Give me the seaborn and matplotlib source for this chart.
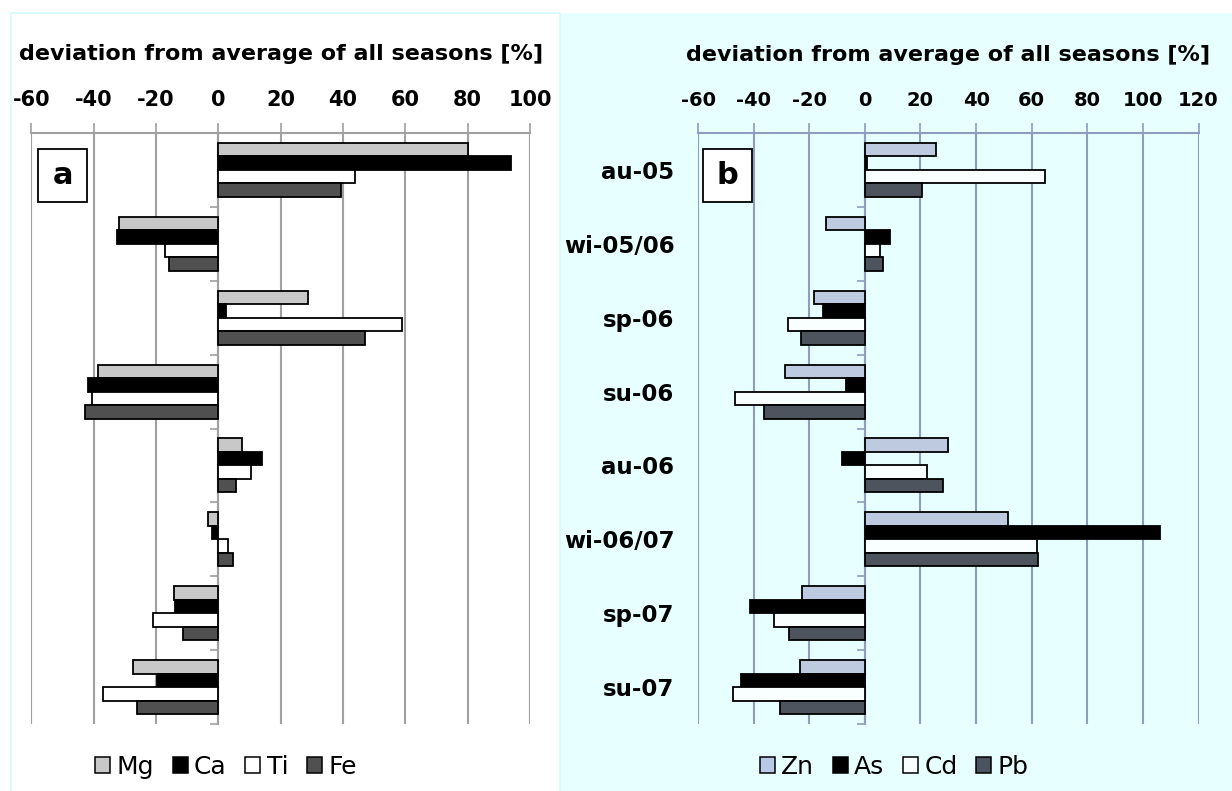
import numpy as np
import pandas as pd
import matplotlib
matplotlib.use("Agg")
import matplotlib.pyplot as plt
import seaborn as sns
from matplotlib.patches import Patch, Rectangle

# ---------------- data ----------------
seasons = ["au-05", "wi-05/06", "sp-06", "su-06", "au-06", "wi-06/07", "sp-07", "su-07"]

elements_a = ["Mg", "Ca", "Ti", "Fe"]
mg = [80.0, -32.0, 28.9, -38.5, 7.6, -3.3, -14.4, -27.5]
ca = [93.8, -32.6, 2.5, -41.9, 14.1, -2.2, -13.8, -19.6]
ti = [43.9, -17.0, 58.9, -40.5, 10.5, 3.2, -21.1, -37.0]
fe = [39.5, -16.0, 47.2, -42.8, 5.8, 4.8, -11.2, -26.2]

elements_b = ["Zn", "As", "Cd", "Pb"]
zn = [25.7, -14.0, -18.2, -28.8, 29.9, 51.5, -22.5, -23.3]
as_ = [0.9, 9.2, -15.1, -6.8, -8.2, 106.0, -41.3, -44.4]
cd = [64.9, 5.5, -27.7, -46.7, 22.2, 61.8, -32.8, -47.3]
pb = [20.7, 6.5, -23.1, -36.1, 28.2, 62.3, -27.3, -30.5]

xticks_a = [-60, -40, -20, 0, 20, 40, 60, 80, 100]
xticks_b = [-60, -40, -20, 0, 20, 40, 60, 80, 100, 120]
xlabel = "deviation from average of all seasons [%]"

colors_a = ["#C8C8C8", "#000000", "#FFFFFF", "#505050"]
colors_b = ["#B8C8E6", "#000000", "#F8FFFF", "#4B5361"]


def long_df(series, names):
    rows = []
    for name, vals in zip(names, series):
        for s, v in zip(seasons, vals):
            rows.append({"season": s, "element": name, "value": v})
    return pd.DataFrame(rows)


df_a = long_df([mg, ca, ti, fe], elements_a)
df_b = long_df([zn, as_, cd, pb], elements_b)

# ---------------- style ----------------
sns.set_theme(style="white")
plt.rcParams["font.family"] = ["DejaVu Sans"]
plt.rcParams["axes.unicode_minus"] = False
plt.rcParams["text.color"] = "black"
plt.rcParams["axes.labelcolor"] = "black"
plt.rcParams["xtick.color"] = "black"
plt.rcParams["ytick.color"] = "black"

W, H = 1232, 791
fig = plt.figure(figsize=(W / 100, H / 100), dpi=100)
fig.patch.set_facecolor("white")


def fx(x):
    return x / W


def fy(y):
    return 1 - y / H


# panel backgrounds
fig.add_artist(Rectangle((fx(560), 0), 1 - fx(560), fy(12.5), transform=fig.transFigure,
                         facecolor="#E8FFFF", edgecolor="none", zorder=0))
fig.add_artist(Rectangle((fx(10.5), -0.01), fx(560) - fx(10.5), fy(12.5) + 0.01,
                         transform=fig.transFigure, facecolor="none",
                         edgecolor="#D6FAFA", linewidth=1.2, zorder=0))

top_px, bot_px = 133, 724
ax_a = fig.add_axes([fx(31.4), fy(bot_px), fx(530) - fx(31.4), (bot_px - top_px) / H])
ax_b = fig.add_axes([fx(698), fy(bot_px), fx(1198.6) - fx(698), (bot_px - top_px) / H])


def draw_panel(ax, df, names, colors, xticks, gridcol, show_labels, letter, box_px,
               legend_cx, ticksize):
    ax.set_facecolor("none")
    sns.barplot(data=df, x="value", y="season", hue="element", hue_order=names,
                order=seasons, orient="h", palette=colors, width=0.73, gap=0,
                edgecolor="black", linewidth=1.3, legend=False, ax=ax, zorder=3)
    ax.set_xlim(xticks[0], xticks[-1])
    ax.set_ylim(len(seasons) - 0.5, -0.5)
    ax.xaxis.tick_top()
    ax.xaxis.set_label_position("top")
    ax.set_xticks(xticks)
    ax.set_xticklabels([str(t) for t in xticks], fontsize=ticksize, fontweight="bold",
                       color="black")
    ax.tick_params(axis="x", direction="out", length=7.2, width=1.2, color=gridcol,
                   pad=9, bottom=False, top=True, labelcolor="black")
    ax.set_xlabel(xlabel, fontsize=16, fontweight="bold", labelpad=22, color="black")
    ax.set_ylabel("")
    ax.grid(axis="x", color=gridcol, linewidth=1.5, zorder=0)
    ax.grid(axis="y", visible=False)
    ax.set_axisbelow(True)
    for side in ["left", "right", "bottom"]:
        ax.spines[side].set_visible(False)
    ax.spines["top"].set_color(gridcol)
    ax.spines["top"].set_linewidth(1.5)

    if show_labels:
        ax.set_yticks(range(len(seasons)))
        ax.set_yticklabels(seasons, fontsize=16.5, fontweight="bold", color="black")
        ax.tick_params(axis="y", length=0, pad=17, left=True)
    else:
        ax.set_yticks([])

    # category boundary ticks on the zero line
    frac = (0 - xticks[0]) / (xticks[-1] - xticks[0])
    sec = ax.secondary_yaxis(frac)
    sec.set_yticks(np.arange(len(seasons) + 1) - 0.5)
    sec.set_yticklabels([])
    sec.tick_params(axis="y", direction="out", length=6, width=1.2, color=gridcol)
    sec.spines["left"].set_color(gridcol)
    sec.spines["left"].set_linewidth(1.5)

    # letter box
    x0, y0, x1, y1 = box_px
    fig.add_artist(Rectangle((fx(x0), fy(y1)), fx(x1) - fx(x0), fy(y0) - fy(y1),
                             transform=fig.transFigure, facecolor="white",
                             edgecolor="black", linewidth=1.3, zorder=5))
    fig.text(fx((x0 + x1) / 2), fy((y0 + y1) / 2), letter, ha="center", va="center",
             fontsize=22, fontweight="bold", zorder=6, color="black")

    handles = [Patch(facecolor=c, edgecolor="black", linewidth=1.1) for c in colors]
    fig.legend(handles, names, loc="center", bbox_to_anchor=(fx(legend_cx), fy(767)),
               bbox_transform=fig.transFigure, ncol=4, frameon=False, fontsize=18,
               handlelength=0.6, handleheight=0.6, handletextpad=0.25,
               columnspacing=0.75, borderaxespad=0)


draw_panel(ax_a, df_a, elements_a, colors_a, xticks_a, "#A0A0A0", False, "a",
           (38, 149, 87, 202), 226, 15)
draw_panel(ax_b, df_b, elements_b, colors_b, xticks_b, "#8E9CBE", True, "b",
           (703, 149, 752, 202), 894, 14)

fig.savefig("out.png", dpi=100)
